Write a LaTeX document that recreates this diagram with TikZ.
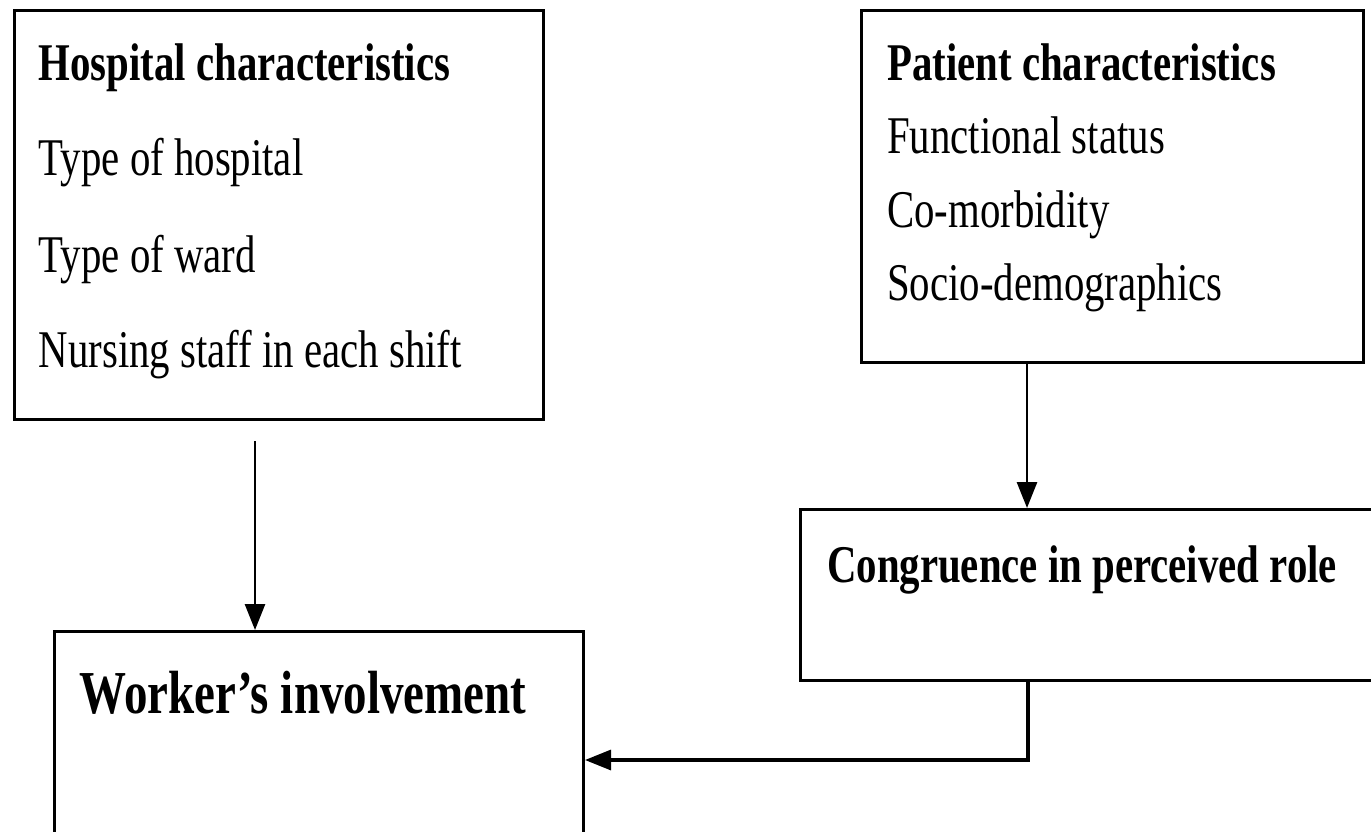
\documentclass[tikz,border=0pt]{standalone}
\usepackage{fontspec}
\setmainfont{Liberation Serif}[FakeStretch=0.77]
\usetikzlibrary{arrows.meta}
\begin{document}
\begin{tikzpicture}[x=1pt,y=-1pt,
  box/.style={draw,line width=3pt,rectangle,inner sep=0pt,anchor=north west},
  txt/.style={anchor=base west,inner sep=0pt,font=\fontsize{53}{60}\selectfont},
  btxt/.style={anchor=base west,inner sep=0pt,font=\fontsize{53}{60}\selectfont\bfseries},
  bigtxt/.style={anchor=base west,inner sep=0pt,font=\fontsize{61}{70}\selectfont\bfseries},
  conn/.style={line width=2.8pt,-{Triangle[length=26pt,width=20pt]}}]
\useasboundingbox[fill=white] (0,0) rectangle (1371,831);
% boxes
\node[box,minimum width=529.5pt,minimum height=409pt] (hosp) at (12.5,9) {};
\node[box,minimum width=502pt,minimum height=352pt] (pat) at (860,9) {};
\node[box,minimum width=577pt,minimum height=171pt] (cong) at (799,508) {};
\node[box,minimum width=529.3pt,minimum height=215pt] (work) at (52.7,630) {};
% texts
\node[btxt] (h0) at (38.6,80) {Hospital characteristics};
\node[txt] (h1) at (38.6,175) {Type of hospital};
\node[txt] (h2) at (38.6,272) {Type of ward};
\node[txt] (h3) at (38.6,367) {Nursing staff in each shift};
\node[btxt] (p0) at (887,80) {Patient characteristics};
\node[txt] (p1) at (887,153) {Functional status};
\node[txt] (p2) at (887,227) {Co-morbidity};
\node[txt] (p3) at (887,300) {Socio-demographics};
\node[btxt] (c0) at (827,582) {Congruence in perceived role};
\node[bigtxt] (w0) at (79.5,713) {Worker’s involvement};
% connectors
\coordinate (ha) at (255,441);
\draw[conn] (ha) -- (ha |- work.north);
\coordinate (pa) at (1027,361);
\draw[conn] (pa |- pat.south) -- (pa |- cong.north);
\coordinate (bend) at (1028,760);
\draw[conn,line width=3.2pt] (bend |- cong.south) -- (bend) -- (bend -| work.east);
\end{tikzpicture}
\end{document}
